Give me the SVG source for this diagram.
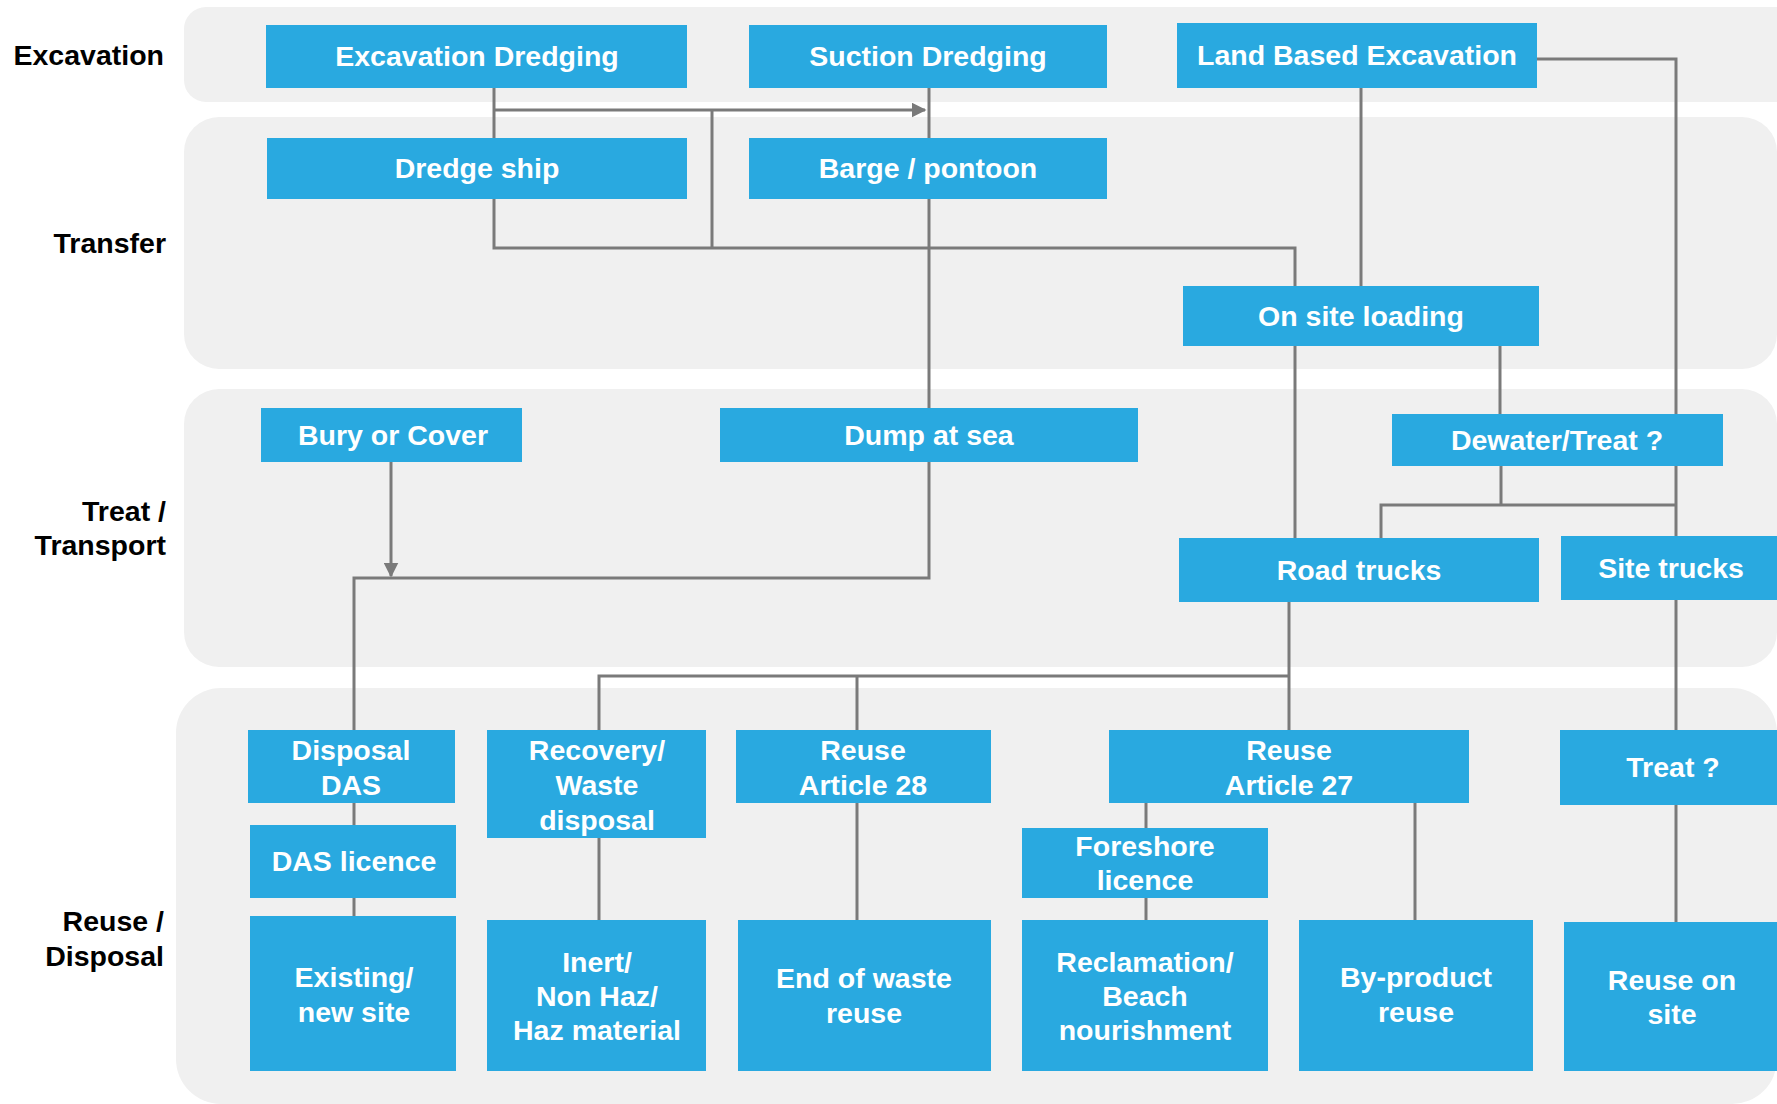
<svg xmlns="http://www.w3.org/2000/svg" width="1777" height="1104" viewBox="0 0 1777 1104">
<style>
.lane{fill:#f0f0f0}
.lbl{font-family:"Liberation Sans",Arial,sans-serif;font-weight:bold;font-size:28.5px;fill:#000;text-anchor:end}
.box{fill:#29a9e0}
.t{font-family:"Liberation Sans",Arial,sans-serif;font-weight:bold;font-size:28.5px;fill:#fff;text-anchor:middle}
.c{fill:none;stroke:#7a7a7a;stroke-width:3}
</style>
<defs>
<marker id="arr" viewBox="0 0 10 10" refX="9" refY="5" markerWidth="5" markerHeight="5" orient="auto" markerUnits="strokeWidth">
<path d="M0 0 L10 5 L0 10 z" fill="#7a7a7a"/>
</marker>
</defs>
<rect width="1777" height="1104" fill="#fff"/>
<g id="lanes">
<rect class="lane" x="184" y="7" width="1640" height="95" rx="22"/>
<rect class="lane" x="184" y="117" width="1593" height="252" rx="35"/>
<rect class="lane" x="184" y="389" width="1593" height="278" rx="35"/>
<rect class="lane" x="176" y="688" width="1601" height="416" rx="45"/>
<text class="lbl" x="164" y="65">Excavation</text>
<text class="lbl" x="166" y="253">Transfer</text>
<text class="lbl" x="166" y="521">Treat /</text>
<text class="lbl" x="166" y="555">Transport</text>
<text class="lbl" x="164" y="931">Reuse /</text>
<text class="lbl" x="164" y="966">Disposal</text>
</g>
<g id="connectors">
<path class="c" d="M494 88 V138"/>
<path class="c" d="M494 110 H925" marker-end="url(#arr)"/>
<path class="c" d="M712 110 V248"/>
<path class="c" d="M494 199 V248 H1295 V286"/>
<path class="c" d="M929 88 V138"/>
<path class="c" d="M929 199 V408"/>
<path class="c" d="M929 462 V578 H354 V730"/>
<path class="c" d="M391 462 V576" marker-end="url(#arr)"/>
<path class="c" d="M1361 88 V286"/>
<path class="c" d="M1537 59 H1676 V414"/>
<path class="c" d="M1295 346 V538"/>
<path class="c" d="M1500 346 V414"/>
<path class="c" d="M1501 466 V505"/>
<path class="c" d="M1381 538 V505 H1676"/>
<path class="c" d="M1676 466 V536"/>
<path class="c" d="M1289 602 V730"/>
<path class="c" d="M599 730 V676 H1289"/>
<path class="c" d="M857 676 V730"/>
<path class="c" d="M1676 600 V730"/>
<path class="c" d="M1676 805 V922"/>
<path class="c" d="M354 803 V825"/>
<path class="c" d="M354 898 V916"/>
<path class="c" d="M599 838 V920"/>
<path class="c" d="M857 803 V920"/>
<path class="c" d="M1146 803 V828"/>
<path class="c" d="M1146 898 V920"/>
<path class="c" d="M1415 803 V920"/>
</g>
<g id="excavation-dredging"><rect class="box" x="266" y="25" width="421" height="63"/><text class="t" x="477" y="66">Excavation Dredging</text></g>
<g id="suction-dredging"><rect class="box" x="749" y="25" width="358" height="63"/><text class="t" x="928" y="66">Suction Dredging</text></g>
<g id="land-based-excavation"><rect class="box" x="1177" y="23" width="360" height="65"/><text class="t" x="1357" y="65">Land Based Excavation</text></g>
<g id="dredge-ship"><rect class="box" x="267" y="138" width="420" height="61"/><text class="t" x="477" y="178">Dredge ship</text></g>
<g id="barge-pontoon"><rect class="box" x="749" y="138" width="358" height="61"/><text class="t" x="928" y="178">Barge / pontoon</text></g>
<g id="on-site-loading"><rect class="box" x="1183" y="286" width="356" height="60"/><text class="t" x="1361" y="326">On site loading</text></g>
<g id="bury-or-cover"><rect class="box" x="261" y="408" width="261" height="54"/><text class="t" x="393" y="445">Bury or Cover</text></g>
<g id="dump-at-sea"><rect class="box" x="720" y="408" width="418" height="54"/><text class="t" x="929" y="445">Dump at sea</text></g>
<g id="dewater-treat"><rect class="box" x="1392" y="414" width="331" height="52"/><text class="t" x="1557" y="450">Dewater/Treat ?</text></g>
<g id="road-trucks"><rect class="box" x="1179" y="538" width="360" height="64"/><text class="t" x="1359" y="580">Road trucks</text></g>
<g id="site-trucks"><rect class="box" x="1561" y="536" width="240" height="64"/><text class="t" x="1671" y="578">Site trucks</text></g>
<g id="disposal-das"><rect class="box" x="248" y="730" width="207" height="73"/><text class="t" x="351" y="760">Disposal</text><text class="t" x="351" y="795">DAS</text></g>
<g id="das-licence"><rect class="box" x="250" y="825" width="206" height="73"/><text class="t" x="354" y="871">DAS licence</text></g>
<g id="existing-new-site"><rect class="box" x="250" y="916" width="206" height="155"/><text class="t" x="354" y="987">Existing/</text><text class="t" x="354" y="1022">new site</text></g>
<g id="recovery-waste-disposal"><rect class="box" x="487" y="730" width="219" height="108"/><text class="t" x="597" y="760">Recovery/</text><text class="t" x="597" y="795">Waste</text><text class="t" x="597" y="830">disposal</text></g>
<g id="inert-haz-material"><rect class="box" x="487" y="920" width="219" height="151"/><text class="t" x="597" y="972">Inert/</text><text class="t" x="597" y="1006">Non Haz/</text><text class="t" x="597" y="1040">Haz material</text></g>
<g id="reuse-article-28"><rect class="box" x="736" y="730" width="255" height="73"/><text class="t" x="863" y="760">Reuse</text><text class="t" x="863" y="795">Article 28</text></g>
<g id="end-of-waste-reuse"><rect class="box" x="738" y="920" width="253" height="151"/><text class="t" x="864" y="988">End of waste</text><text class="t" x="864" y="1023">reuse</text></g>
<g id="reuse-article-27"><rect class="box" x="1109" y="730" width="360" height="73"/><text class="t" x="1289" y="760">Reuse</text><text class="t" x="1289" y="795">Article 27</text></g>
<g id="foreshore-licence"><rect class="box" x="1022" y="828" width="246" height="70"/><text class="t" x="1145" y="856">Foreshore</text><text class="t" x="1145" y="890">licence</text></g>
<g id="reclamation-beach-nourishment"><rect class="box" x="1022" y="920" width="246" height="151"/><text class="t" x="1145" y="972">Reclamation/</text><text class="t" x="1145" y="1006">Beach</text><text class="t" x="1145" y="1040">nourishment</text></g>
<g id="by-product-reuse"><rect class="box" x="1299" y="920" width="234" height="151"/><text class="t" x="1416" y="987">By-product</text><text class="t" x="1416" y="1022">reuse</text></g>
<g id="treat"><rect class="box" x="1560" y="730" width="240" height="75"/><text class="t" x="1673" y="777">Treat ?</text></g>
<g id="reuse-on-site"><rect class="box" x="1564" y="922" width="240" height="149"/><text class="t" x="1672" y="990">Reuse on</text><text class="t" x="1672" y="1024">site</text></g>
</svg>
